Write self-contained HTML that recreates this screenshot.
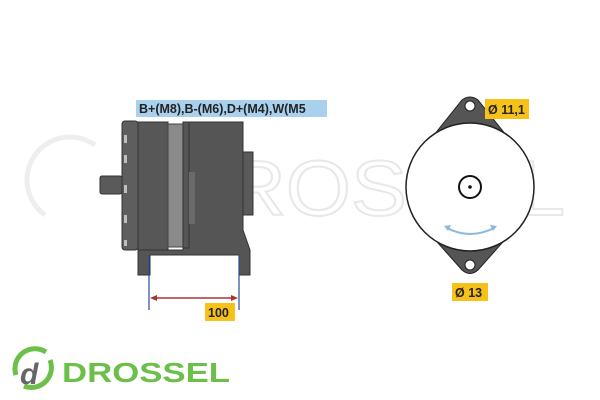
<!DOCTYPE html>
<html><head><style>
html,body{margin:0;padding:0;background:#fff;width:600px;height:400px;overflow:hidden}
</style></head><body>
<svg width="600" height="400" xmlns="http://www.w3.org/2000/svg" font-family="Liberation Sans, sans-serif">
<rect width="600" height="400" fill="#fff"/>
<!-- watermark -->
<text x="165" y="215" font-size="78" fill="none" stroke="#e8e8e8" stroke-width="2" textLength="400" lengthAdjust="spacingAndGlyphs">DROSSEL</text>
<path d="M45 215 A40 40 0 0 1 95 145" fill="none" stroke="#eeeeee" stroke-width="5"/>
<!-- label -->
<rect x="136" y="100" width="191" height="17" fill="#a9d1ee"/>
<text x="139" y="113" font-size="12.5" font-weight="bold" fill="#222">B+(M8),B-(M6),D+(M4),W(M5</text>
<!-- alternator side -->
<rect x="100" y="176" width="22" height="18" rx="2" fill="#5a5a5a" stroke="#333"/>
<rect x="122" y="121" width="16" height="129" rx="3" fill="#5e5e5e" stroke="#333"/>
<g fill="#fff" opacity="0.6"><rect x="124" y="135" width="3" height="8"/><rect x="124" y="155" width="3" height="8"/><rect x="124" y="185" width="3" height="8"/><rect x="124" y="215" width="3" height="8"/><rect x="124" y="240" width="3" height="6"/></g>
<rect x="138" y="122" width="30" height="128" fill="#575757" stroke="#333"/>
<rect x="168" y="124" width="15" height="123" fill="#8a8a8a" stroke="#444"/>
<rect x="183" y="122" width="6" height="126" fill="#555" stroke="#333"/>
<path d="M189 122 H243 V230 L250 250 V275 H239 V255 H150 V275 H138 V250 H183 V248 H189 Z" fill="#555" stroke="#333"/>
<rect x="189" y="172" width="6" height="52" fill="#6a6a6a"/>
<rect x="243" y="152" width="10" height="63" fill="#5a5a5a" stroke="#333"/>
<!-- dimension -->
<line x1="149" y1="255" x2="149" y2="310" stroke="#2a4a9a" stroke-width="1.2"/>
<line x1="239" y1="255" x2="239" y2="310" stroke="#2a4a9a" stroke-width="1.2"/>
<line x1="152" y1="298" x2="236" y2="298" stroke="#a33" stroke-width="1.5"/>
<path d="M150 298 L157 295 L157 301 Z M238 298 L231 295 L231 301 Z" fill="#a33"/>
<rect x="205" y="303" width="30" height="18" fill="#f6c21a"/>
<text x="208" y="317" font-size="12.5" font-weight="bold" fill="#222">100</text>
<!-- front view -->
<path d="M430 140 L462 100 Q470 94 478 100 L510 140 Z" fill="#555" stroke="#222"/>
<path d="M430 234 L462 270 Q470 277 478 270 L510 234 Z" fill="#555" stroke="#222"/>
<circle cx="470" cy="106" r="5" fill="#fff" stroke="#222"/>
<circle cx="470" cy="265" r="5" fill="#fff" stroke="#222"/>
<circle cx="470" cy="187" r="64" fill="#fff" stroke="#222" stroke-width="1.5"/>
<circle cx="470" cy="187" r="11" fill="#fff" stroke="#111" stroke-width="2"/>
<circle cx="470" cy="187" r="1.8" fill="#111"/>
<path d="M447 228 Q470 240 494 228" fill="none" stroke="#8ab8de" stroke-width="2"/>
<path d="M444 226 L451 225 L448 231 Z M497 226 L490 225 L493 231 Z" fill="#8ab8de"/>
<rect x="485" y="99" width="44" height="20" fill="#f6c21a"/>
<text x="488" y="114" font-size="12.5" font-weight="bold" fill="#222">Ø 11,1</text>
<rect x="452" y="283" width="36" height="18" fill="#f6c21a"/>
<text x="455" y="297" font-size="12.5" font-weight="bold" fill="#222">Ø 13</text>
<!-- logo -->
<path d="M16 375 A20 20 0 0 1 46 352" fill="none" stroke="#6cc04a" stroke-width="5"/>
<path d="M50 360 A20 20 0 0 1 24 386" fill="none" stroke="#6cc04a" stroke-width="5"/>
<text x="20" y="384" font-size="30" font-weight="bold" font-style="italic" fill="#666">d</text>
<text x="62" y="382" font-size="28" font-weight="bold" fill="#6cc04a" textLength="168" lengthAdjust="spacingAndGlyphs">DROSSEL</text>
</svg>
</body></html>
